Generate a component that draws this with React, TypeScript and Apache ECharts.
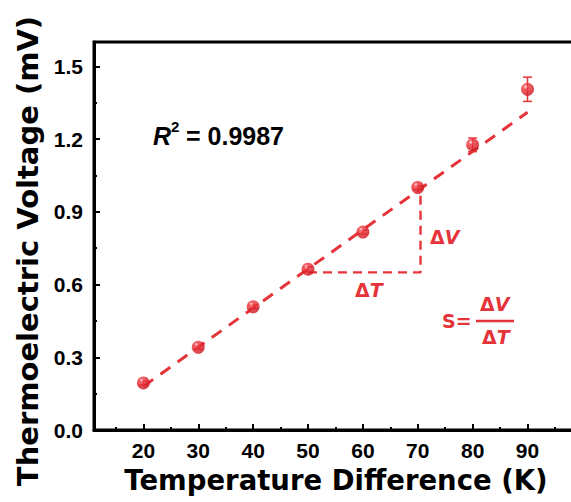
import React, { useEffect, useRef } from "react";
import * as echarts from "echarts";

const tempDiff = [20, 30, 40, 50, 60, 70, 80, 90];
const voltage = [0.194, 0.341, 0.508, 0.663, 0.816, 1.0, 1.176, 1.405];
const voltageErr = [0.008, 0.008, 0.008, 0.01, 0.008, 0.008, 0.028, 0.05];
const fitX = [20, 90];
const fitY = [0.18, 1.31];
const triX = [50, 70.5, 70.5];
const triY = [0.65, 0.65, 0.98];
const xMajorTicks = [20, 30, 40, 50, 60, 70, 80, 90];
const xMinorTicks = [15, 25, 35, 45, 55, 65, 75, 85, 95];

const RED = "#e5333a";
const FONT = 'Arial, "Liberation Sans", Helvetica, sans-serif';
const WIDE = '"DejaVu Sans", Verdana, sans-serif';

export default function App() {
  const ref = useRef<HTMLDivElement>(null);
  useEffect(() => {
    if (!ref.current) return;
    const chart = echarts.init(ref.current, null, { renderer: "svg" });
    const points = tempDiff.map((x, i) => [x, voltage[i]]);
    const errData = tempDiff.map((x, i) => [x, voltage[i] - voltageErr[i], voltage[i] + voltageErr[i]]);
    const fitData = fitX.map((x, i) => [x, fitY[i]]);
    const triData = triX.map((x, i) => [x, triY[i]]);
    const sphere = new echarts.graphic.RadialGradient(0.35, 0.3, 0.7, [
      { offset: 0, color: "#ffe0e0" },
      { offset: 0.25, color: "#f03a41" },
      { offset: 1, color: "#cc161e" },
    ]);
    const tlabel = { fontFamily: FONT, fontWeight: "bold", fontSize: 21, color: "#000" };
    const dStyle = { fontFamily: WIDE, fontWeight: "bold", fontSize: 19, fill: RED };
    const vStyle = { fontFamily: WIDE, fontWeight: "bold", fontStyle: "italic", fontSize: 19, fill: RED };
    const deltaText = (letter: string, left: number, top: number) => ({
      type: "text",
      left,
      top,
      style: { text: "{d|Δ}{v|" + letter + "}", rich: { d: dStyle, v: vStyle } },
    });
    chart.setOption({
      animation: false,
      grid: {
        left: 94,
        top: 42,
        height: 388,
        width: 484,
        outerBoundsMode: "none",
        show: true,
        borderColor: "#000",
        borderWidth: 3,
      },
      xAxis: [
        {
          type: "value",
          min: 11,
          max: 99.2,
          position: "bottom",
          name: "Temperature Difference (K)",
          nameLocation: "middle",
          nameGap: 36,
          nameTextStyle: { fontFamily: WIDE, fontWeight: "bold", fontSize: 27.5, color: "#000" },
          axisLine: { show: true, lineStyle: { color: "#000", width: 3 } },
          axisTick: { show: true, inside: true, length: 6, lineStyle: { color: "#000", width: 2 }, customValues: xMajorTicks },
          axisLabel: { ...tlabel, margin: 10, customValues: xMajorTicks },
          splitLine: { show: false },
        },
        {
          type: "value",
          min: 11,
          max: 99.2,
          position: "bottom",
          axisLine: { show: false },
          axisTick: { show: true, inside: true, length: 3, lineStyle: { color: "#000", width: 2 }, customValues: xMinorTicks },
          axisLabel: { show: false, customValues: xMinorTicks },
          splitLine: { show: false },
        },
      ],
      yAxis: {
        type: "value",
        min: 0,
        max: 1.6,
        interval: 0.3,
        name: "Thermoelectric Voltage (mV)",
        nameLocation: "middle",
        nameGap: 48,
        nameRotate: 90,
        nameTextStyle: { fontFamily: WIDE, fontWeight: "bold", fontSize: 29, color: "#000", padding: [0, 30, 0, 0] },
        axisLine: { show: true, lineStyle: { color: "#000", width: 3 } },
        axisTick: { show: true, inside: true, length: 6, lineStyle: { color: "#000", width: 2 } },
        minorTick: { show: true, splitNumber: 2, length: 3, lineStyle: { color: "#000", width: 2 } },
        axisLabel: { ...tlabel, margin: 11, showMaxLabel: false, formatter: (v: number) => v.toFixed(1) },
        splitLine: { show: false },
      },
      series: [
        {
          type: "line",
          data: fitData,
          symbol: "none",
          lineStyle: { color: RED, width: 3, type: [12, 9] },
          z: 2,
        },
        {
          type: "line",
          data: triData,
          symbol: "none",
          lineStyle: { color: RED, width: 2.4, type: [9, 6] },
          z: 2,
        },
        {
          type: "custom",
          data: errData,
          renderItem: (params: any, api: any) => {
            const x = api.value(0);
            const lo = api.coord([x, api.value(1)]);
            const hi = api.coord([x, api.value(2)]);
            const w = 4.5;
            const st = { stroke: RED, lineWidth: 1.5 };
            return {
              type: "group",
              children: [
                { type: "line", shape: { x1: lo[0], y1: lo[1], x2: hi[0], y2: hi[1] }, style: st },
                { type: "line", shape: { x1: lo[0] - w, y1: lo[1], x2: lo[0] + w, y2: lo[1] }, style: st },
                { type: "line", shape: { x1: hi[0] - w, y1: hi[1], x2: hi[0] + w, y2: hi[1] }, style: st },
              ],
            };
          },
          z: 3,
        },
        {
          type: "scatter",
          data: points,
          symbol: "circle",
          symbolSize: 13,
          itemStyle: { color: sphere },
          z: 4,
        },
      ],
      graphic: [
        { type: "text", left: 153, top: 123, style: { text: "R", fontFamily: FONT, fontWeight: "bold", fontStyle: "italic", fontSize: 25, fill: "#000" } },
        { type: "text", left: 171, top: 119, style: { text: "2", fontFamily: FONT, fontWeight: "bold", fontSize: 15, fill: "#000" } },
        { type: "text", left: 186, top: 123, style: { text: "= 0.9987", fontFamily: FONT, fontWeight: "bold", fontSize: 25, fill: "#000" } },
        deltaText("V", 430, 227),
        deltaText("T", 355, 280),
        { type: "text", left: 442, top: 311, style: { text: "S=", fontFamily: WIDE, fontWeight: "bold", fontSize: 19, fill: RED } },
        deltaText("V", 480, 294),
        { type: "line", shape: { x1: 476, y1: 321, x2: 514, y2: 321 }, style: { stroke: RED, lineWidth: 2.5 } },
        deltaText("T", 482, 327),
      ],
    });
    return () => chart.dispose();
  }, []);
  return (
    <div
      ref={ref}
      style={{ position: "fixed", left: 0, top: 0, width: 571, height: 502, background: "#fff", overflow: "hidden" }}
    />
  );
}
